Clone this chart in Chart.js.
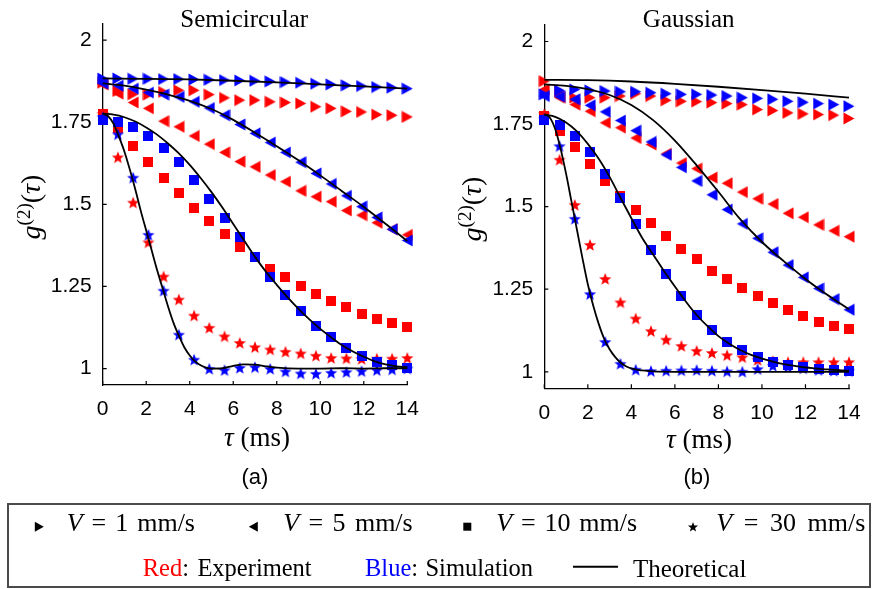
<!DOCTYPE html>
<html><head><meta charset="utf-8">
<script src="https://cdn.jsdelivr.net/npm/chart.js@4"></script>
<style>
html,body{margin:0;padding:0;background:#fff;}
#wrap{position:relative;width:873px;height:589px;overflow:hidden;background:#fff;}
canvas{position:absolute;top:0;}
.t{position:absolute;white-space:nowrap;line-height:1;color:#000;}
.serif{font-family:'Liberation Serif','Times New Roman',serif;}
.sans{font-family:'Liberation Sans',Arial,sans-serif;}
sup{font-size:0.68em;vertical-align:0.55em;line-height:0;}
#legend{position:absolute;left:7px;top:503px;width:864px;height:85px;box-sizing:border-box;border:2px solid #4a4a4a;}
#lsvg{position:absolute;left:0;top:0;}
</style></head>
<body><div id="wrap">
<canvas id="c1" width="440" height="480" style="left:0"></canvas>
<canvas id="c2" width="433" height="480" style="left:440px"></canvas>
<div id="legend"></div>
<svg id="lsvg" width="873" height="589"></svg>
</div>
<script>
// ---------------- data ----------------
const tau = [0,0.7,1.4,2.1,2.8,3.5,4.2,4.9,5.6,6.3,7.0,7.7,8.4,9.1,9.8,10.5,11.2,11.9,12.6,13.3,14];
const xTicks = [0,2,4,6,8,10,12,14];
const yTicks = [1,1.25,1.5,1.75,2];
const yTickLabels = ['1','1.25','1.5','1.75','2'];

// Semicircular (a)
const semiSimV1  = [1.883,1.883,1.882,1.882,1.881,1.881,1.880,1.879,1.878,1.877,1.876,1.874,1.872,1.870,1.867,1.865,1.862,1.860,1.857,1.855,1.852];
const semiExpV1  = [1.870,1.845,1.835,1.834,1.842,1.847,1.847,1.834,1.824,1.817,1.817,1.812,1.810,1.807,1.797,1.792,1.783,1.781,1.773,1.771,1.766];
const semiSimV5  = [1.868,1.861,1.852,1.840,1.834,1.827,1.812,1.793,1.771,1.743,1.716,1.688,1.658,1.628,1.594,1.562,1.526,1.493,1.460,1.424,1.390];
const semiExpV5  = [1.865,1.837,1.810,1.792,1.753,1.736,1.708,1.683,1.658,1.630,1.614,1.589,1.569,1.541,1.523,1.508,1.481,1.467,1.444,1.424,1.407];
const semiSimV10 = [1.756,1.751,1.736,1.708,1.672,1.628,1.574,1.517,1.459,1.399,1.339,1.280,1.225,1.176,1.131,1.095,1.063,1.039,1.020,1.010,1.002];
const semiExpV10 = [1.776,1.731,1.678,1.630,1.581,1.535,1.490,1.449,1.410,1.371,1.339,1.304,1.278,1.252,1.228,1.207,1.186,1.167,1.152,1.139,1.128];
const semiSimV30 = [1.765,1.713,1.581,1.407,1.237,1.103,1.027,0.999,0.995,1.002,1.004,0.999,0.991,0.985,0.984,0.987,0.989,0.992,0.995,0.997,1.000];
const semiExpV30 = [1.775,1.643,1.505,1.384,1.280,1.210,1.161,1.124,1.098,1.078,1.065,1.058,1.051,1.046,1.039,1.032,1.031,1.029,1.030,1.030,1.032];

const semiThTauV1  = [0,2,4,6,8,10,12,14];
const semiThV1     = [1.883,1.882,1.880,1.876,1.871,1.865,1.859,1.852];
const semiThTauV5  = [0,1,2,3,4,5,6,7,8,9,10,11,12,13,14];
const semiThV5     = [1.868,1.861,1.849,1.834,1.815,1.790,1.757,1.718,1.677,1.634,1.588,1.540,1.492,1.441,1.388];
const semiThTauV10 = [0,0.5,1,1.5,2,2.5,3,3.5,4,4.5,5,5.5,6,6.5,7,7.5,8,8.5,9,9.5,10,10.5,11,11.5,12,12.5,13,13.5,14];
const semiThV10    = [1.776,1.773,1.765,1.752,1.734,1.712,1.685,1.655,1.620,1.580,1.537,1.490,1.440,1.390,1.340,1.295,1.255,1.217,1.182,1.150,1.121,1.095,1.071,1.052,1.036,1.022,1.013,1.007,1.004];
const semiThTauV30 = [0,0.25,0.5,0.75,1,1.25,1.5,1.75,2,2.25,2.5,2.75,3,3.25,3.5,3.75,4,4.25,4.5,4.75,5,5.5,6,6.5,7,7.5,8,9,10,11,12,13,14];
const semiThV30    = [1.776,1.768,1.745,1.705,1.660,1.605,1.545,1.480,1.420,1.360,1.300,1.245,1.190,1.140,1.100,1.065,1.040,1.022,1.010,1.003,1.000,1.001,1.008,1.013,1.012,1.007,1.003,1.000,1.000,1.001,1.000,1.001,1.001];

// Gaussian (b)
const gaussSimV1  = [1.840,1.852,1.855,1.852,1.850,1.848,1.848,1.845,1.842,1.840,1.840,1.838,1.835,1.830,1.828,1.825,1.819,1.816,1.812,1.809,1.804];
const gaussExpV1  = [1.880,1.848,1.830,1.830,1.830,1.835,1.842,1.835,1.822,1.819,1.818,1.815,1.812,1.809,1.794,1.791,1.784,1.781,1.779,1.777,1.767];
const gaussSimV5  = [1.835,1.833,1.825,1.807,1.787,1.761,1.730,1.696,1.657,1.619,1.578,1.536,1.491,1.448,1.404,1.362,1.323,1.286,1.252,1.220,1.188];
const gaussExpV5  = [1.855,1.830,1.809,1.789,1.754,1.739,1.708,1.688,1.660,1.632,1.615,1.588,1.571,1.544,1.524,1.508,1.480,1.468,1.445,1.427,1.409];
const gaussSimV10 = [1.761,1.746,1.715,1.664,1.599,1.525,1.447,1.369,1.296,1.230,1.171,1.128,1.090,1.065,1.044,1.031,1.021,1.014,1.009,1.006,1.003];
const gaussExpV10 = [1.775,1.730,1.680,1.629,1.578,1.531,1.490,1.452,1.411,1.371,1.340,1.306,1.280,1.254,1.229,1.207,1.186,1.168,1.151,1.139,1.129];
const gaussSimV30 = [1.765,1.683,1.463,1.235,1.090,1.024,1.006,1.002,1.003,1.004,1.005,1.003,1.001,1.000,1.008,1.018,1.015,1.010,1.005,1.003,1.002];
const gaussExpV30 = [1.780,1.642,1.505,1.384,1.281,1.210,1.161,1.123,1.097,1.078,1.063,1.057,1.050,1.044,1.036,1.032,1.029,1.029,1.029,1.029,1.029];

const gaussThTauV1  = [0,2,4,6,8,10,12,14];
const gaussThV1     = [1.884,1.883,1.879,1.872,1.863,1.853,1.842,1.830];
const gaussThTauV5  = [0,1,2,3,4,5,6,7,8,9,10,11,12,13,14];
const gaussThV5     = [1.870,1.866,1.856,1.838,1.808,1.762,1.700,1.625,1.545,1.462,1.393,1.335,1.281,1.233,1.189];
const gaussThTauV10 = [0,0.5,1,1.5,2,2.5,3,3.5,4,4.5,5,5.5,6,6.5,7,7.5,8,8.5,9,9.5,10,10.5,11,11.5,12,12.5,13,13.5,14];
const gaussThV10    = [1.779,1.772,1.755,1.728,1.690,1.645,1.590,1.527,1.465,1.405,1.355,1.305,1.258,1.213,1.172,1.138,1.108,1.085,1.066,1.051,1.040,1.031,1.023,1.018,1.013,1.010,1.007,1.005,1.003];
const gaussThTauV30 = [0,0.25,0.5,0.75,1,1.25,1.5,1.75,2,2.25,2.5,2.75,3,3.25,3.5,3.75,4,4.5,5,6,8,10,12,14];
const gaussThV30    = [1.779,1.770,1.735,1.675,1.600,1.515,1.430,1.345,1.265,1.200,1.145,1.100,1.068,1.045,1.028,1.017,1.010,1.004,1.001,1.000,1.000,1.000,1.000,1.000];

// ---------------- markers ----------------
const RED = '#ff0000', BLUE = '#0000ff';
function triImg(color, dir) {
  const W = 12, H = 13, c = document.createElement('canvas');
  c.width = W; c.height = H;
  const g = c.getContext('2d'); g.fillStyle = color; g.beginPath();
  if (dir > 0) { g.moveTo(0.5, 0.5); g.lineTo(W - 0.5, H / 2); g.lineTo(0.5, H - 0.5); }
  else { g.moveTo(W - 0.5, 0.5); g.lineTo(0.5, H / 2); g.lineTo(W - 0.5, H - 0.5); }
  g.closePath(); g.fill(); return c;
}
function sqImg(color) {
  const S = 10, c = document.createElement('canvas'); c.width = S; c.height = S;
  const g = c.getContext('2d'); g.fillStyle = color; g.fillRect(0, 0, S, S); return c;
}
function starPath(g, cx, cy, R, r) {
  g.beginPath();
  for (let i = 0; i < 10; i++) {
    const rr = i % 2 ? r : R, a = -Math.PI / 2 + i * Math.PI / 5;
    g.lineTo(cx + rr * Math.cos(a), cy + rr * Math.sin(a));
  }
  g.closePath();
}
function starImg(color) {
  const S = 14, c = document.createElement('canvas'); c.width = S; c.height = S;
  const g = c.getContext('2d'); g.fillStyle = color; starPath(g, S / 2, S / 2 + 0.5, 6.4, 2.8); g.fill(); return c;
}

const pts = (xs, ys) => xs.map((x, i) => ({ x: x, y: ys[i] }));
const mk = (ys, img) => ({ data: pts(tau, ys), pointStyle: img, pointRadius: 5, showLine: false, clip: false });
const ln = (xs, ys) => ({ data: pts(xs, ys), showLine: true, borderColor: '#000', borderWidth: 1.8,
  pointRadius: 0, cubicInterpolationMode: 'monotone', clip: false, fill: false });

const inwardTicks = {
  id: 'inwardTicks',
  beforeDatasetsDraw(chart) {
    const { ctx, chartArea: a, scales: { x, y } } = chart;
    ctx.save(); ctx.strokeStyle = '#000'; ctx.lineWidth = 1.2; ctx.beginPath();
    x.ticks.forEach(t => { const p = x.getPixelForValue(t.value); ctx.moveTo(p, a.bottom); ctx.lineTo(p, a.bottom - 4); });
    y.ticks.forEach(t => { const p = y.getPixelForValue(t.value); ctx.moveTo(a.left, p); ctx.lineTo(a.left + 4, p); });
    ctx.stroke(); ctx.restore();
  }
};

function makeChart(id, datasets, L) {
  const tickFont = { family: "'Liberation Sans', Arial, sans-serif", size: 21 };
  return new Chart(document.getElementById(id), {
    type: 'scatter',
    data: { datasets: datasets },
    plugins: [inwardTicks],
    options: {
      responsive: false, animation: false, devicePixelRatio: 1, events: [],
      layout: { padding: { left: 0, right: L.right, top: L.top, bottom: 0 } },
      plugins: { legend: { display: false }, tooltip: { enabled: false } },
      scales: {
        x: {
          type: 'linear', min: 0, max: 14,
          afterBuildTicks: s => { s.ticks = xTicks.map(v => ({ value: v })); },
          afterFit: s => { s.height = L.xh; },
          ticks: { font: tickFont, color: '#000', padding: 12, maxRotation: 0, autoSkip: false, callback: v => String(v) },
          grid: { display: false, drawTicks: false },
          border: { display: true, color: '#000', width: 1.3 }
        },
        y: {
          type: 'linear', min: 0.95, max: 2.05,
          afterBuildTicks: s => { s.ticks = yTicks.map(v => ({ value: v })); },
          afterFit: s => { s.width = L.yw; },
          ticks: { font: tickFont, color: '#000', padding: 11, autoSkip: false,
            callback: (v) => yTickLabels[yTicks.indexOf(v)] },
          grid: { display: false, drawTicks: false },
          border: { display: true, color: '#000', width: 1.3 }
        }
      }
    }
  });
}

const triR = { r: triImg(RED, 1), b: triImg(BLUE, 1) };
const triL = { r: triImg(RED, -1), b: triImg(BLUE, -1) };
const sq = { r: sqImg(RED), b: sqImg(BLUE) };
const st = { r: starImg(RED), b: starImg(BLUE) };

makeChart('c1', [
  ln(semiThTauV1, semiThV1), ln(semiThTauV5, semiThV5), ln(semiThTauV10, semiThV10), ln(semiThTauV30, semiThV30),
  mk(semiSimV1, triR.b), mk(semiSimV5, triL.b), mk(semiSimV10, sq.b), mk(semiSimV30, st.b),
  mk(semiExpV1, triR.r), mk(semiExpV5, triL.r), mk(semiExpV10, sq.r), mk(semiExpV30, st.r)
], { right: 32.7, top: 23.3, xh: 95, yw: 102.7 });

makeChart('c2', [
  ln(gaussThTauV1, gaussThV1), ln(gaussThTauV5, gaussThV5), ln(gaussThTauV10, gaussThV10), ln(gaussThTauV30, gaussThV30),
  mk(gaussSimV1, triR.b), mk(gaussSimV5, triL.b), mk(gaussSimV10, sq.b), mk(gaussSimV30, st.b),
  mk(gaussExpV1, triR.r), mk(gaussExpV5, triL.r), mk(gaussExpV10, sq.r), mk(gaussExpV30, st.r)
], { right: 24, top: 25, xh: 91.7, yw: 104.3 });

// ---------------- text ----------------
const wrap = document.getElementById('wrap');
function putText(html, cls, size, x, base, anchor) {
  const d = document.createElement('div');
  d.className = 't ' + cls; d.style.fontSize = size + 'px'; d.innerHTML = html;
  wrap.appendChild(d);
  const k = cls === 'sans' ? 0.8465 : 0.8375;
  d.style.top = (base - k * size) + 'px';
  const w = d.getBoundingClientRect().width;
  d.style.left = (anchor === 'middle' ? x - w / 2 : x) + 'px';
  return d;
}
function fit(d, target, words) {
  const w = d.getBoundingClientRect().width;
  if (words) {
    const n = d.textContent.split(' ').length - 1;
    if (n > 0) d.style.wordSpacing = ((target - w) / n) + 'px';
  } else {
    const n = d.textContent.length;
    d.style.letterSpacing = ((target - w) / n) + 'px';
  }
}
putText('Semicircular', 'serif', 25, 244.2, 26.5, 'middle');
putText('Gaussian', 'serif', 25, 688.7, 26.5, 'middle');
putText('<i>τ</i>&nbsp;(ms)', 'serif', 27, 257, 447, 'middle');
putText('<i>τ</i>&nbsp;(ms)', 'serif', 27, 699, 449, 'middle');
putText('(a)', 'sans', 22, 255, 485, 'middle');
putText('(b)', 'sans', 22, 697, 485, 'middle');

function yLabel(cx, cy) {
  const d = document.createElement('div');
  d.className = 't serif'; d.style.fontSize = '28px';
  d.innerHTML = '<i>g</i><sup>(2)</sup>(<i>τ</i>)';
  d.style.left = cx + 'px'; d.style.top = cy + 'px';
  d.style.transform = 'translate(-50%,-50%) rotate(-90deg)';
  wrap.appendChild(d);
}
yLabel(31, 207);
yLabel(471.5, 209);

// legend text
const l1 = 531.7, l2 = 576.7;
fit(putText('<i>V</i> = 1 mm/s', 'serif', 26, 66.7, l1), 128.3, true);
fit(putText('<i>V</i> = 5 mm/s', 'serif', 26, 283.3, l1), 129.4, true);
fit(putText('<i>V</i> = 10 mm/s', 'serif', 26, 496.3, l1), 140.7, true);
fit(putText('<i>V</i> = 30 mm/s', 'serif', 26, 716.3, l1), 149, true);
fit(putText('<span style="color:#ff0000">Red</span>: Experiment', 'serif', 24.5, 142.7, l2), 169, true);
fit(putText('<span style="color:#0000ff">Blue</span>: Simulation', 'serif', 24.5, 365, l2), 168, true);
fit(putText('Theoretical', 'serif', 25, 633, l2), 113.3, false);

// legend symbols
const svg = document.getElementById('lsvg');
const NS = 'http://www.w3.org/2000/svg';
function sv(tag, attrs) { const e = document.createElementNS(NS, tag); for (const k in attrs) e.setAttribute(k, attrs[k]); svg.appendChild(e); return e; }
const my = 526.7;
sv('polygon', { points: `${39.3-4.5},${my-5} ${39.3+4.5},${my} ${39.3-4.5},${my+5}`, fill: '#000' });
sv('polygon', { points: `${253.3+4.5},${my-5} ${253.3-4.5},${my} ${253.3+4.5},${my+5}`, fill: '#000' });
sv('rect', { x: 467.3 - 4, y: my - 4, width: 8, height: 8, fill: '#000' });
{
  let p = [];
  for (let i = 0; i < 10; i++) { const rr = i % 2 ? 2.2 : 5.3, a = -Math.PI / 2 + i * Math.PI / 5; p.push((693 + rr * Math.cos(a)).toFixed(2) + ',' + (my + 0.5 + rr * Math.sin(a)).toFixed(2)); }
  sv('polygon', { points: p.join(' '), fill: '#000' });
}
sv('line', { x1: 573, y1: 566.7, x2: 618, y2: 566.7, stroke: '#000', 'stroke-width': 2 });
</script>
</body></html>
